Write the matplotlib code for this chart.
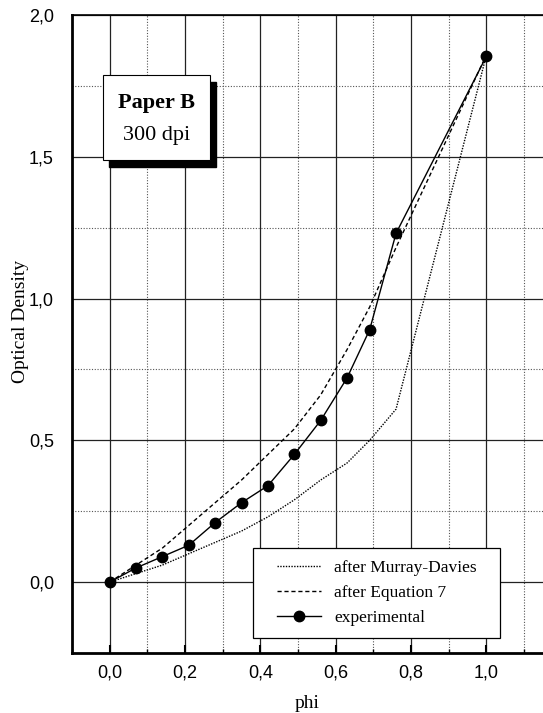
import numpy as np
import matplotlib
matplotlib.use('Agg')
import matplotlib.pyplot as plt
from matplotlib.patches import Rectangle

# phi values of the measured patches
phi = [0.0, 0.07, 0.14, 0.21, 0.28, 0.35, 0.42, 0.49, 0.56, 0.63, 0.69, 0.76, 1.0]
# curves
murray_davies = [0.0, 0.03, 0.06, 0.10, 0.14, 0.18, 0.23, 0.29, 0.36, 0.42, 0.50, 0.61, 1.86]
equation_7 = [0.0, 0.06, 0.12, 0.20, 0.28, 0.36, 0.45, 0.54, 0.66, 0.82, 0.97, 1.18, 1.86]
experimental = [0.0, 0.05, 0.09, 0.13, 0.21, 0.28, 0.34, 0.45, 0.57, 0.72, 0.89, 1.23, 1.855]

x_ticks = [0.0, 0.2, 0.4, 0.6, 0.8, 1.0]
y_ticks = [0.0, 0.5, 1.0, 1.5, 2.0]

serif = 'Liberation Serif'
sans = 'Liberation Sans'

fig = plt.figure(figsize=(5.43, 7.13), dpi=100)
ax = fig.add_axes([0.1326, 0.0842, 0.8674, 0.8948])

ax.set_xlim(-0.1, 1.15)
ax.set_ylim(-0.25, 2.0)

# grid: solid major, dotted minor
ax.xaxis.set_major_locator(plt.FixedLocator(x_ticks))
ax.xaxis.set_minor_locator(plt.MultipleLocator(0.1))
ax.yaxis.set_major_locator(plt.FixedLocator(y_ticks))
ax.yaxis.set_minor_locator(plt.MultipleLocator(0.25))
ax.grid(True, which='major', color='#222222', linestyle='-', linewidth=0.9)
ax.grid(True, which='minor', color='#555555', linestyle=(0, (1, 1.5)), linewidth=0.8)
ax.set_axisbelow(True)

ax.plot(phi, murray_davies, color='black', linestyle=(0, (1, 1)), linewidth=1.0,
        label='after Murray-Davies')
ax.plot(phi, equation_7, color='black', linestyle=(0, (3, 2)), linewidth=1.0,
        label='after Equation 7')
ax.plot(phi, experimental, color='black', linestyle='-', linewidth=1.0,
        marker='o', markersize=7.5, label='experimental')

ax.set_xticklabels(['0,0', '0,2', '0,4', '0,6', '0,8', '1,0'], fontfamily=sans, fontsize=13)
ax.set_yticklabels(['0,0', '0,5', '1,0', '1,5', '2,0'], fontfamily=sans, fontsize=13)
ax.tick_params(which='major', direction='in', length=6, width=1.5, pad=8)
ax.tick_params(which='minor', direction='in', length=3, width=1)
ax.tick_params(axis='y', which='both', length=0, pad=13)

ax.set_xlabel('phi', fontfamily=serif, fontsize=14, labelpad=10)
ax.set_ylabel('Optical Density', fontfamily=serif, fontsize=14)
ax.yaxis.set_label_coords(-0.092, 0.52)

for s in ['left', 'bottom']:
    ax.spines[s].set_linewidth(2)
ax.spines['top'].set_linewidth(1.2)
ax.spines['right'].set_visible(False)

# label box with drop shadow
box_x, box_y, box_w, box_h = -0.019, 1.489, 0.286, 0.30
ax.add_patch(Rectangle((box_x + 0.016, box_y - 0.025), box_w, box_h,
                       facecolor='black', edgecolor='black', zorder=5))
ax.add_patch(Rectangle((box_x, box_y), box_w, box_h,
                       facecolor='white', edgecolor='black', linewidth=0.8, zorder=6))
ax.text(box_x + box_w / 2, 1.69, 'Paper B', fontfamily=serif, fontsize=16, fontweight='bold',
        ha='center', va='center', zorder=7)
ax.text(box_x + box_w / 2, 1.575, '300 dpi', fontfamily=serif, fontsize=16,
        ha='center', va='center', zorder=7)

# legend frame drawn separately so its padding can match the original
ax.add_patch(Rectangle((0.381, -0.1975), 0.654, 0.3175, facecolor='white',
                       edgecolor='black', linewidth=0.9, zorder=8))
leg = ax.legend(loc='center left', bbox_to_anchor=(0.443, -0.039),
                bbox_transform=ax.transData, frameon=False,
                prop={'family': serif, 'size': 12.5}, handlelength=2.55,
                labelspacing=0.5, borderpad=0, handletextpad=0.75, borderaxespad=0)
leg.set_zorder(9)

plt.savefig('out.png', dpi=100)
